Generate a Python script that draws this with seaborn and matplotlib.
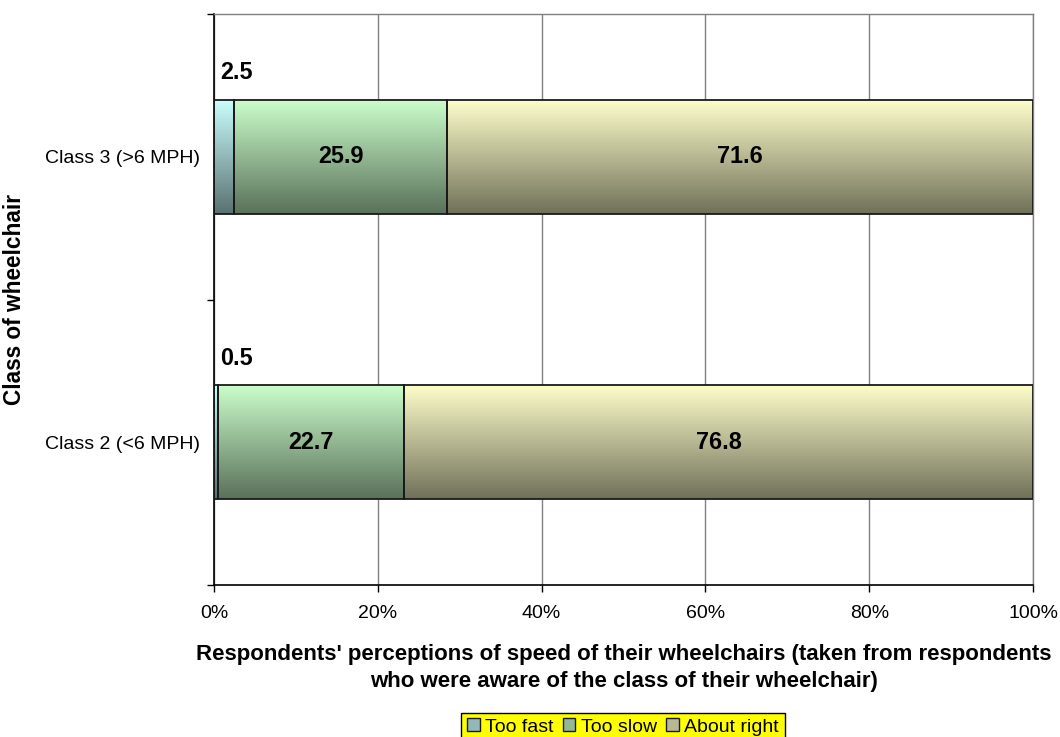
import numpy as np
import pandas as pd
import matplotlib
matplotlib.use("Agg")
import matplotlib.pyplot as plt
from matplotlib.colors import to_rgb
from matplotlib.patches import Patch
import seaborn as sns

# Survey results (percent of respondents)
classes = ["Class 3 (>6 MPH)", "Class 2 (<6 MPH)"]
series = ["Too fast", "Too slow", "About right"]
too_fast = [2.5, 0.5]
too_slow = [25.9, 22.7]
about_right = [71.6, 76.8]
x_ticks = [0, 20, 40, 60, 80, 100]
x_tick_labels = ["0%", "20%", "40%", "60%", "80%", "100%"]

top_colors = {"Too fast": "#CCFFFF", "Too slow": "#CCFFCC", "About right": "#FFFFCC"}
dark_factor = 0.44

sns.set_theme(style="white")
plt.rcParams["font.family"] = ["Liberation Sans", "DejaVu Sans"]
for key in ["text.color", "axes.labelcolor", "xtick.color", "ytick.color"]:
    plt.rcParams[key] = "black"

fig = plt.figure(figsize=(10.6, 7.37), dpi=100)
ax = fig.add_axes([214 / 1060, 1 - 585 / 737, (1033 - 214) / 1060, (585 - 14) / 737])

values = {"Too fast": too_fast, "Too slow": too_slow, "About right": about_right}
lefts = np.zeros(len(classes))
bar_groups = []
for name in series:
    df = pd.DataFrame({"cls": classes, "value": values[name]})
    n_before = len(ax.patches)
    sns.barplot(data=df, x="value", y="cls", order=classes, orient="h",
                width=0.4, color=top_colors[name], left=lefts.copy(),
                edgecolor="#1a1a1a", linewidth=1.3, ax=ax, zorder=3)
    bar_groups.append((name, ax.patches[n_before:]))
    lefts = lefts + np.array(values[name])

# Vertical gradient fill inside each bar (light at top, dark at bottom)
def gradient(color, n=256):
    top = np.array(to_rgb(color))
    bot = top * dark_factor
    t = np.linspace(0, 1, n)[:, None]
    return (top * (1 - t) + bot * t)[:, None, :]

for k, (name, patches) in enumerate(bar_groups):
    g = gradient(top_colors[name])
    for p in patches:
        x0, y0, w, h = p.get_x(), p.get_y(), p.get_width(), p.get_height()
        im = ax.imshow(g, extent=[x0, x0 + w, y0 + h, y0], aspect="auto",
                       origin="upper", zorder=2 + 0.1 * k, interpolation="bilinear")
        im.set_clip_path(p)
        p.set_facecolor("none")

ax.set_xlim(0, 100)
ax.set_ylim(1.5, -0.5)

# Value labels
for name in series:
    vals = values[name]
    starts = np.zeros(len(classes))
    for prev in series[:series.index(name)]:
        starts += np.array(values[prev])
    for i, v in enumerate(vals):
        if v < 5:
            ax.text(0.8, i - 0.295, f"{v:.1f}", ha="left", va="center",
                    fontsize=16.8, fontweight="bold", color="black", zorder=5)
        else:
            ax.text(starts[i] + v / 2, i, f"{v:.1f}", ha="center", va="center",
                    fontsize=16.8, fontweight="bold", color="black", zorder=5)

# Axes styling
ax.set_axisbelow(True)
ax.grid(axis="x", color="#808080", linewidth=1.0, zorder=0)
ax.grid(axis="y", visible=False)
ax.set_xticks(x_ticks)
ax.set_xticklabels(x_tick_labels, fontsize=14)
ax.set_yticks([0, 1])
ax.set_yticklabels(classes, fontsize=14)
ax.set_yticks([-0.5, 0.5, 1.5], minor=True)
ax.tick_params(axis="y", which="major", length=0, pad=10)
ax.tick_params(axis="y", which="minor", length=5, width=1, color="black", left=True)
ax.tick_params(axis="x", which="major", length=5, width=1, color="black",
               bottom=True, pad=9.5)

for side in ["left", "bottom"]:
    ax.spines[side].set_color("black")
    ax.spines[side].set_linewidth(1.2)
for side in ["top", "right"]:
    ax.spines[side].set_visible(True)
    ax.spines[side].set_color("#808080")
    ax.spines[side].set_linewidth(1.0)

ax.set_xlabel("Respondents' perceptions of speed of their wheelchairs (taken from respondents\n"
              "who were aware of the class of their wheelchair)",
              fontsize=16, fontweight="bold", linespacing=1.35)
ax.xaxis.set_label_coords((624 - 214) / 819, -(644 - 585) / 571)
ax.set_ylabel("Class of wheelchair", fontsize=16.3, fontweight="bold")
ax.yaxis.set_label_coords(-(214 - 15) / 819, 0.5)
ax.yaxis.label.set_va("center")

handles = [Patch(facecolor=tuple(np.array(to_rgb(top_colors[s])) * 0.72),
                 edgecolor="#1a1a1a", linewidth=1.0) for s in series]
leg = fig.legend(handles, series, loc="upper center",
                 bbox_to_anchor=(623 / 1060, 1 - 712.5 / 737), ncol=3,
                 fontsize=14, frameon=True, fancybox=False, shadow=False,
                 handlelength=0.65, handleheight=0.65, handletextpad=0.3,
                 columnspacing=0.45, borderpad=0.3, borderaxespad=0)
leg.get_frame().set_facecolor("#FFFF00")
leg.get_frame().set_edgecolor("black")
leg.get_frame().set_linewidth(1.0)
leg.get_frame().set_alpha(1.0)

fig.savefig("out.png", dpi=100)
